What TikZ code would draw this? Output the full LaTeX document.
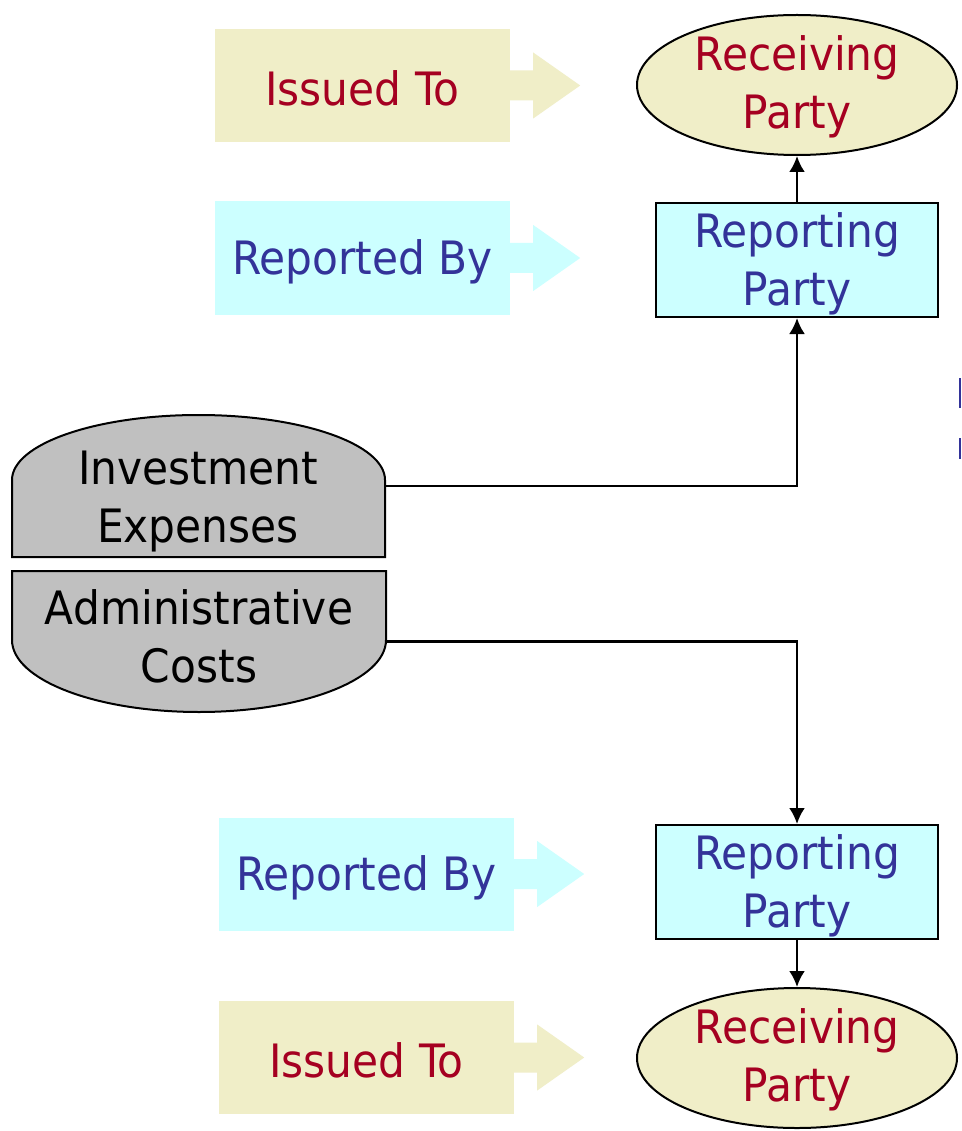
\documentclass[tikz,border=0pt]{standalone}
\usepackage{fontspec}
\setmainfont[FakeStretch=0.92]{DejaVu Sans}
\usetikzlibrary{shapes.geometric,arrows.meta}
\definecolor{beige}{HTML}{F0EEC8}
\definecolor{cyanfill}{HTML}{CCFFFF}
\definecolor{redtxt}{HTML}{A50021}
\definecolor{bluetxt}{HTML}{333399}
\definecolor{drumgray}{HTML}{C0C0C0}
\tikzset{
  bigfont/.style={font=\fontsize{46}{58}\selectfont},
  lbl/.style={minimum width=295pt,minimum height=113pt,inner sep=0pt},
  issued/.style={lbl,fill=beige},
  reported/.style={lbl,fill=cyanfill},
  repbox/.style={draw=black,line width=2pt,fill=cyanfill,minimum width=282pt,minimum height=114pt,inner sep=0pt},
  recell/.style={ellipse,draw=black,line width=2pt,fill=beige,minimum width=320pt,minimum height=140pt,inner sep=0pt},
  txt/.style={bigfont,align=center,inner sep=0pt},
  redt/.style={txt,text=redtxt},
  bluet/.style={txt,text=bluetxt},
  drumtxt/.style={txt,text=black},
  conn/.style={line width=2.6pt,-{Latex[length=16pt,width=16pt]}},
}
\newcommand{\sidearrow}[2]{%
  \fill[#2] ([yshift=-15pt]#1.east) -- ++(23pt,0) -- ++(0,-18pt) -- ++(47pt,33pt) -- ++(-47pt,33pt) -- ++(0,-18pt) -- ++(-23pt,0) -- cycle;}
\begin{document}
\begin{tikzpicture}[x=1pt,y=-1pt]
\useasboundingbox[fill=white] (0,0) rectangle (961,1131);
% top group
\node[issued] (iss1) at (362.5,85.5) {};
\node[redt] (iss1t) at ([yshift=-3pt]iss1.center) {Issued To};
\sidearrow{iss1}{beige}
\node[recell] (rec1) at (797,85) {};
\node[redt] (rec1t) at ([yshift=-2pt]rec1.center) {Receiving\\Party};
\node[reported] (rb1) at (362.5,258) {};
\node[bluet] (rb1t) at ([yshift=-4pt]rb1.center) {Reported By};
\sidearrow{rb1}{cyanfill}
\node[repbox] (rep1) at (797,260) {};
\node[bluet] (rep1t) at ([yshift=-4pt]rep1.center) {Reporting\\Party};
% drums
\node[minimum width=373pt,minimum height=142pt,inner sep=0pt] (inv) at (198.5,486) {};
\draw[line width=2pt,fill=drumgray] (12,557) -- (12,480) arc[start angle=180,end angle=0,x radius=186.5pt,y radius=65pt] -- (385,557) -- cycle;
\node[drumtxt] (invt) at (198,502) {Investment\\Expenses};
\node[minimum width=374pt,minimum height=141pt,inner sep=0pt] (adm) at (199,641.5) {};
\draw[line width=2pt,fill=drumgray] (12,571) -- (12,640) arc[start angle=180,end angle=360,x radius=187pt,y radius=72pt] -- (386,571) -- cycle;
\node[drumtxt] (admt) at (199,636) {Administrative\\Costs};
% bottom group
\node[reported] (rb2) at (366.5,874) {};
\node[bluet] (rb2t) at ([yshift=-4pt]rb2.center) {Reported By};
\sidearrow{rb2}{cyanfill}
\node[repbox] (rep2) at (797,882) {};
\node[bluet] (rep2t) at ([yshift=-4pt]rep2.center) {Reporting\\Party};
\node[issued] (iss2) at (366.5,1057.5) {};
\node[redt] (iss2t) at ([yshift=-3pt]iss2.center) {Issued To};
\sidearrow{iss2}{beige}
\node[recell] (rec2) at (797,1058) {};
\node[redt] (rec2t) at ([yshift=-2pt]rec2.center) {Receiving\\Party};
% connectors
\draw[conn] (rep1.north) -- (rec1.south);
\draw[conn] (inv.east) -| (rep1.south);
\draw[conn] (adm.east) -| (rep2.north);
\draw[conn] (rep2.south) -- (rec2.north);
% clipped fragments at right edge
\fill[bluetxt] (958.5,378) rectangle (961,408);
\fill[bluetxt] (958.5,438) rectangle (961,459);
\end{tikzpicture}
\end{document}
